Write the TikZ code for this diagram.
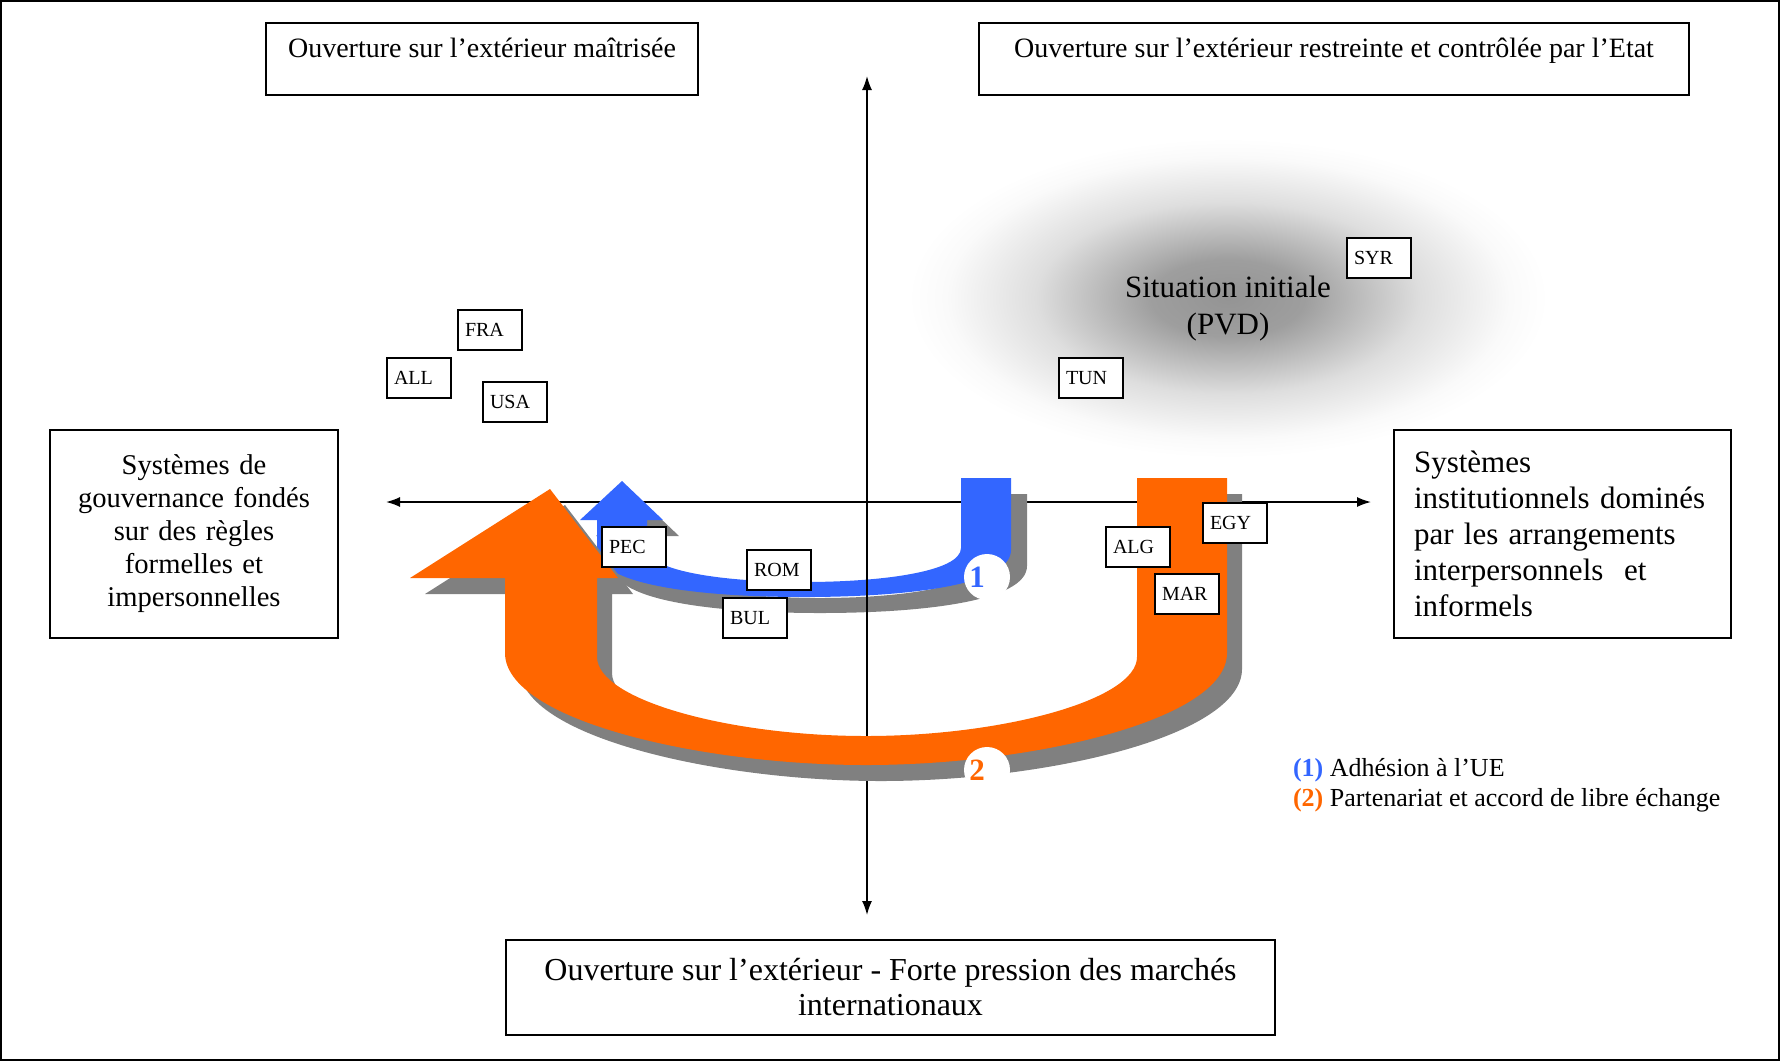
\documentclass[tikz,border=0pt]{standalone}
\usepackage{fontspec}
\setmainfont{Liberation Serif}
\usetikzlibrary{arrows.meta}
\definecolor{bleuUE}{RGB}{51,102,255}
\definecolor{orangeLE}{RGB}{255,102,0}
\definecolor{ombre}{RGB}{128,128,128}
\pgfdeclareradialshading{nuage}{\pgfpoint{0bp}{0bp}}{color(0bp)=(black!42); color(6bp)=(black!38); color(15bp)=(black!13); color(22bp)=(black!2); color(25bp)=(white); color(50bp)=(white)}

\begin{document}
\begin{tikzpicture}[x = 0.5pt, y = -0.5pt,
	cadre/.style = {draw, line width = 0.8pt, fill = white},
	pays/.style = {draw, line width = 1pt, fill = white, font = \fontsize{10}{12}\selectfont, text width = 25pt, inner xsep = 3.5pt, minimum height = 20pt, align = left},
	disque/.style = {circle, fill = white, minimum size = 23pt, inner sep = 0pt, font = \fontsize{15.5}{15.5}\selectfont\bfseries},
	axe/.style = {line width = 0.8pt, <->, >={Latex[length = 7pt, width = 5pt]}}]
	\useasboundingbox (0,0) rectangle (1780,1061);
	\draw[line width = 1pt] (1,1) rectangle (1779,1060);
	\shade[shading = nuage] (1228,298) ellipse [x radius = 160pt, y radius = 80pt];
	\node[align = center, font = \fontsize{15.5}{18.5}\selectfont] (pvd) at (1228,309) {Situation initiale\\(PVD)};
	\coordinate (g) at (386,502);
	\coordinate (d) at (1371,502);
	\coordinate (h) at (867,76);
	\coordinate (b) at (867,915);
	\draw[axe] (g)--(d);
	\foreach \dx/\dy/\col in {16/16/ombre, 0/0/bleuUE}
	\fill[\col, shift = {(\dx,\dy)}] (597,520)--(597,550) .. controls (597,585) and (700,597) .. (804,597) .. controls (908,597) and (1011,585) .. (1011,550)--(1011,478)--(961,478)--(961,548) .. controls (961,572) and (880,582) .. (804,582) .. controls (728,582) and (647,572) .. (647,548)--(647,520)--(663,520)--(622,481)--(580,520)--cycle;
	\draw[axe] (h)--(b);
	\foreach \dx/\dy/\col in {15/16/ombre, 0/0/orangeLE}
	\fill[\col, shift = {(\dx,\dy)}] (505,578)--(505,653) .. controls (505,720) and (700,765) .. (866,765) .. controls (1032,765) and (1227,720) .. (1227,653)--(1227,478)--(1137,478)--(1137,657) .. controls (1137,700) and (1002,736) .. (866,736) .. controls (730,736) and (597,700) .. (597,657)--(597,578)--(618,578)--(550,489)--(410,578)--cycle;
	\node[disque, text = bleuUE] (n1) at (987,577) {1\hspace*{10pt}};
	\node[disque, text = orangeLE] (n2) at (987,770) {2\hspace*{10pt}};
	\node[pays] (fra) at (490,330) {FRA};
	\node[pays] (all) at (419,378) {ALL};
	\node[pays] (usa) at (515,402) {USA};
	\node[pays] (syr) at (1379,258) {SYR};
	\node[pays] (tun) at (1091,378) {TUN};
	\node[pays] (pec) at (634,547) {PEC};
	\node[pays] (rom) at (779,570) {ROM};
	\node[pays] (bul) at (755,618) {BUL};
	\node[pays] (alg) at (1138,547) {ALG};
	\node[pays] (egy) at (1235,523) {EGY};
	\node[pays] (mar) at (1187,594) {MAR};
	\node[cadre, anchor = north, minimum width = 216pt, inner ysep = 4pt, text height = 13.5pt, text depth = 14.5pt, font = \fontsize{14}{17}\selectfont] (maitrisee) at (482,22) {Ouverture sur l’extérieur maîtrisée};
	\node[cadre, anchor = north, minimum width = 355pt, inner ysep = 4pt, text height = 13.5pt, text depth = 14.5pt, font = \fontsize{14}{17}\selectfont] (restreinte) at (1334,22) {Ouverture sur l’extérieur restreinte et contrôlée par l’Etat};
	\node[cadre, minimum width = 144pt, minimum height = 104pt, text width = 134pt, align = center, font = \fontsize{14.3}{16.5}\selectfont] (formel) at (194,534) {Systèmes de\\gouvernance fondés\\sur des règles\\formelles et\\impersonnelles\\[5pt]};
	\node[cadre, minimum width = 168.5pt, minimum height = 104pt, text width = 148.5pt, inner xsep = 10pt, align = left, font = \fontsize{15.5}{18}\selectfont] (informel) at (1562.5,534) {Systèmes\\institutionnels dominés\\par les arrangements\\interpersonnels~~et\\informels};
	\node[cadre, minimum width = 384.5pt, minimum height = 47.5pt, align = center, font = \fontsize{16}{17.5}\selectfont] (marches) at (890.5,987.5) {Ouverture sur l’extérieur - Forte pression des marchés\\internationaux};
	\node[anchor = west, font = \fontsize{13}{15}\selectfont] (leg1) at (1286,770) {\textcolor{bleuUE}{\bfseries(1)} Adhésion à l’UE};
	\node[anchor = west, font = \fontsize{13}{15}\selectfont] (leg2) at (1286,800) {\textcolor{orangeLE}{\bfseries(2)} Partenariat et accord de libre échange};
\end{tikzpicture}
\end{document}
